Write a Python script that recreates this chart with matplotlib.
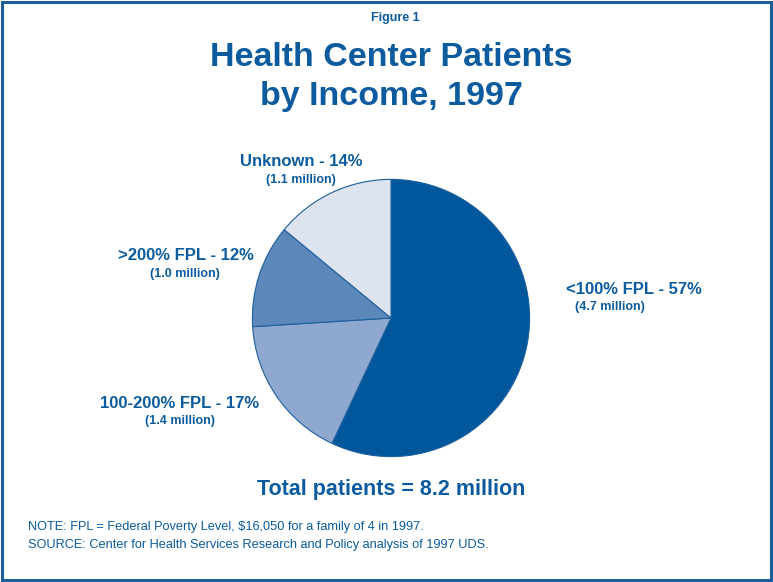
import matplotlib.pyplot as plt
from matplotlib.patches import Rectangle

# values
labels = ['<100% FPL - 57%', '100-200% FPL - 17%', '>200% FPL - 12%', 'Unknown - 14%']
shares = [57, 17, 12, 14]
millions = ['(4.7 million)', '(1.4 million)', '(1.0 million)', '(1.1 million)']
colors = ['#00579b', '#8ea8cf', '#5b87bb', '#dee3f0']

blue = '#0b5b9e'
plt.rcParams['font.family'] = ['Liberation Sans', 'DejaVu Sans']

fig = plt.figure(figsize=(7.73, 5.82), dpi=100)
W, H = 773, 582

def fx(x):
    return x / W

def fy(y):
    return 1 - y / H

# frame round the whole figure
fig.patches.append(Rectangle((fx(2), fy(580)), fx(769), 578 / H, transform=fig.transFigure,
                             fill=False, edgecolor='#1c5e9c', linewidth=2.2))

# pie, center ~ (391, 318), radius ~140 px
ax = fig.add_axes([fx(391 - 140), fy(318 + 140), fx(280), 280 / H])
ax.pie(shares, colors=colors, startangle=90, counterclock=False, radius=1,
       wedgeprops=dict(edgecolor='#1d5f9c', linewidth=0.8))
ax.set_xlim(-1.01, 1.01)
ax.set_ylim(-1.01, 1.01)
ax.set_aspect('equal')
ax.axis('off')

fig.text(fx(395), fy(18), 'Figure 1', ha='center', va='center', fontsize=9, fontweight='bold', color=blue)
fig.text(fx(391), fy(57), 'Health Center Patients', ha='center', va='center', fontsize=24.5, fontweight='bold', color=blue)
fig.text(fx(391), fy(97), 'by Income, 1997', ha='center', va='center', fontsize=24.5, fontweight='bold', color=blue)

# slice labels: (main x, main y, sub x, sub y, alignment)
pos = [(566, 289, 575, 307, 'left'),
       (180, 404, 180, 421, 'center'),
       (186, 256, 185, 274, 'center'),
       (301, 162, 301, 180, 'center')]
for lab, sub, (x1, y1, x2, y2, al) in zip(labels, millions, pos):
    fig.text(fx(x1), fy(y1), lab, ha=al, va='center', fontsize=12, fontweight='bold', color=blue)
    fig.text(fx(x2), fy(y2), sub, ha=al, va='center', fontsize=9, fontweight='bold', color=blue)

fig.text(fx(391), fy(489), 'Total patients = 8.2 million', ha='center', va='center',
         fontsize=15.5, fontweight='bold', color=blue)

fig.text(fx(28), fy(527), 'NOTE: FPL = Federal Poverty Level, $16,050 for a family of 4 in 1997.',
         ha='left', va='center', fontsize=9.2, color=blue)
fig.text(fx(28), fy(545), 'SOURCE: Center for Health Services Research and Policy analysis of 1997 UDS.',
         ha='left', va='center', fontsize=9.2, color=blue)

fig.savefig('out.png', dpi=100)
